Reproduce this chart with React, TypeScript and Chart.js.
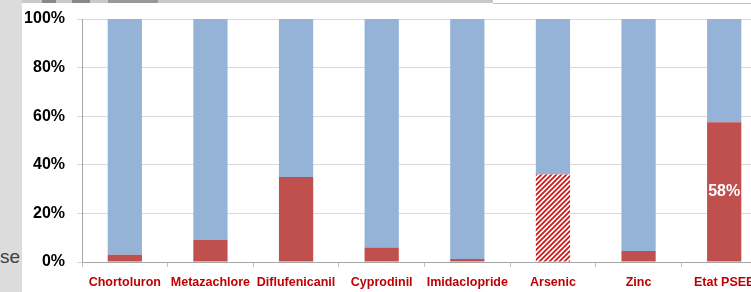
import React, { useEffect, useRef } from "react";
import { Chart, registerables } from "chart.js";

Chart.register(...registerables);

const categories = [
  "Chortoluron",
  "Metazachlore",
  "Diflufenicanil",
  "Cyprodinil",
  "Imidaclopride",
  "Arsenic",
  "Zinc",
  "Etat PSEE",
];
const redValues = [3, 9.2, 35, 6, 1.2, 36, 4.5, 57.5];
const blueValues = [97, 90.8, 65, 94, 98.8, 64, 95.5, 42.5];
const hatchedIndex = 5;
const dataLabels = ["", "", "", "", "", "", "", "58%"];
const yTickValues = [0, 20, 40, 60, 80, 100];

const FONT = "'Liberation Sans', Arial, sans-serif";

function makeHatch(): CanvasPattern | string {
  const c = document.createElement("canvas");
  c.width = 5;
  c.height = 5;
  const g = c.getContext("2d");
  if (!g) return "#c0504d";
  g.fillStyle = "#ffffff";
  g.fillRect(0, 0, 5, 5);
  g.strokeStyle = "#d01818";
  g.lineWidth = 1.8;
  g.beginPath();
  g.moveTo(0, 5);
  g.lineTo(5, 0);
  g.moveTo(-1, 1);
  g.lineTo(1, -1);
  g.moveTo(4, 6);
  g.lineTo(6, 4);
  g.stroke();
  const p = g.createPattern(c, "repeat");
  return p || "#c0504d";
}

export default function App() {
  const ref = useRef<HTMLCanvasElement | null>(null);

  useEffect(() => {
    const canvas = ref.current;
    if (!canvas) return;
    const hatch = makeHatch();
    const labelPlugin = {
      id: "dataLabelPlugin",
      afterDatasetsDraw(chart: any) {
        const ctx = chart.ctx;
        const meta = chart.getDatasetMeta(0);
        ctx.save();
        ctx.fillStyle = "#ffffff";
        ctx.font = `bold 16px ${FONT}`;
        ctx.textAlign = "center";
        ctx.textBaseline = "middle";
        meta.data.forEach((bar: any, i: number) => {
          const t = dataLabels[i];
          if (!t) return;
          const p = bar.getProps(["x", "y", "base"], true);
          ctx.fillText(t, p.x, (p.y + p.base) / 2);
        });
        ctx.restore();
      },
    };
    const chart = new Chart(canvas, {
      type: "bar",
      data: {
        labels: categories,
        datasets: [
          {
            data: redValues,
            backgroundColor: categories.map((_, i) =>
              i === hatchedIndex ? hatch : "#c0504d"
            ) as any,
            borderWidth: 0,
            categoryPercentage: 1,
            barPercentage: 0.4,
          },
          {
            data: blueValues,
            backgroundColor: "#95b3d7",
            borderWidth: 0,
            categoryPercentage: 1,
            barPercentage: 0.4,
          },
        ],
      },
      options: {
        animation: false,
        responsive: false,
        devicePixelRatio: 1,
        layout: { padding: { top: 15, right: 0, left: 0, bottom: 0 } },
        plugins: {
          legend: { display: false },
          tooltip: { enabled: false },
        },
        scales: {
          x: {
            stacked: true,
            grid: {
              drawOnChartArea: false,
              drawTicks: true,
              tickLength: 5,
              color: "#bfbfbf",
              offset: true,
            },
            border: { color: "#a6a6a6" },
            ticks: {
              color: "#c00000",
              font: { family: FONT, size: 12.5, weight: "bold" },
              padding: 8,
              maxRotation: 0,
              autoSkip: false,
            },
            afterFit: (scale: any) => {
              scale.height = 30;
              scale.paddingLeft = 0;
              scale.paddingRight = 0;
            },
          },
          y: {
            stacked: true,
            min: 0,
            max: 100,
            afterBuildTicks: (scale: any) => {
              scale.ticks = yTickValues.map((v) => ({ value: v }));
            },
            grid: { color: "#d9d9d9", tickLength: 5 },
            border: { color: "#a6a6a6" },
            ticks: {
              color: "#000000",
              font: { family: FONT, size: 16, weight: "bold" },
              padding: 12,
              callback: (v: any) => `${v}%`,
            },
            afterFit: (scale: any) => {
              scale.width = 60;
              scale.paddingTop = 0;
              scale.paddingBottom = 0;
            },
          },
        },
      },
      plugins: [labelPlugin],
    });
    return () => chart.destroy();
  }, []);

  return (
    <div
      style={{
        position: "fixed",
        left: 0,
        top: 0,
        width: 751,
        height: 292,
        overflow: "hidden",
        background: "#ffffff",
      }}
    >
      <div
        style={{
          position: "absolute",
          left: 0,
          top: 0,
          width: 22,
          height: 292,
          background: "#dcdcdc",
        }}
      />
      <div
        style={{
          position: "absolute",
          left: 22,
          top: 0,
          width: 471,
          height: 3,
          background: "#c8c8c8",
        }}
      />
      <div
        style={{
          position: "absolute",
          left: 493,
          top: 3,
          width: 258,
          height: 1,
          background: "#c4c4c4",
        }}
      />
      <div style={{ position: "absolute", left: 42, top: 0, width: 14, height: 3, background: "#888" }} />
      <div style={{ position: "absolute", left: 72, top: 0, width: 18, height: 3, background: "#888" }} />
      <div style={{ position: "absolute", left: 108, top: 0, width: 50, height: 3, background: "#999" }} />
      <div
        style={{
          position: "absolute",
          left: 0,
          top: 246,
          fontFamily: FONT,
          fontSize: 19,
          color: "#404040",
          lineHeight: "22px",
        }}
      >
        se
      </div>
      <canvas
        ref={ref}
        width={745}
        height={288}
        style={{ position: "absolute", left: 22, top: 4, width: 745, height: 288 }}
      />
    </div>
  );
}
